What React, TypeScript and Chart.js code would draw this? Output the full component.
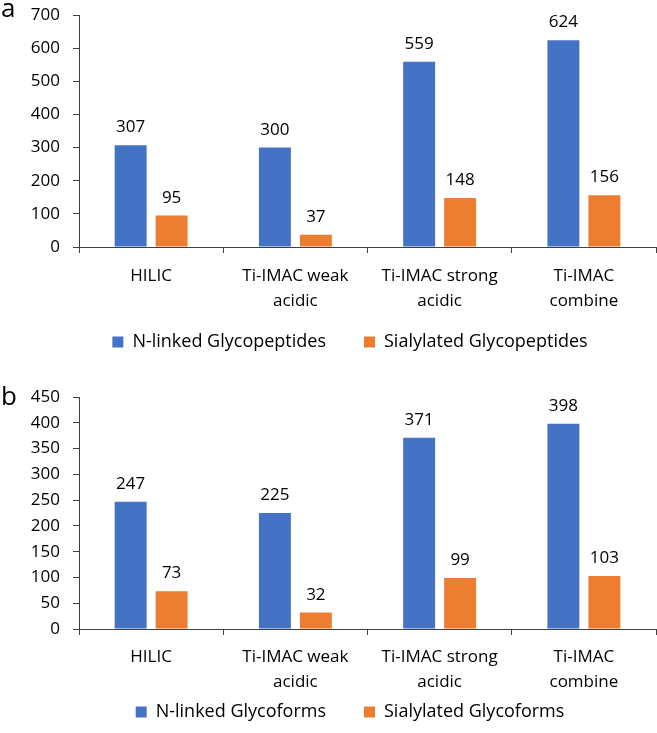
import React, { useEffect, useRef } from "react";
import { Chart, registerables } from "chart.js";

Chart.register(...registerables);

const categoryLabels: string[][] = [
  ["HILIC"],
  ["Ti-IMAC weak", "acidic"],
  ["Ti-IMAC strong", "acidic"],
  ["Ti-IMAC", "combine"],
];

const glycopeptidesNLinked = [307, 300, 559, 624];
const glycopeptidesSialylated = [95, 37, 148, 156];
const glycoformsNLinked = [247, 225, 371, 398];
const glycoformsSialylated = [73, 32, 99, 103];

const seriesNamesA = ["N-linked Glycopeptides", "Sialylated Glycopeptides"];
const seriesNamesB = ["N-linked Glycoforms", "Sialylated Glycoforms"];

const yMaxA = 700;
const yStepA = 100;
const yMaxB = 450;
const yStepB = 50;

const BLUE = "#4472C4";
const ORANGE = "#ED7D31";
const AXIS = "#404040";
const FONT = "'Open Sans', 'DejaVu Sans', sans-serif";
const LEGEND_PAD = 38;
const LEGEND_FONT = 18;

type PanelProps = {
  letter: string;
  names: string[];
  a: number[];
  b: number[];
  yMax: number;
  yStep: number;
  height: number;
  top: number;
  padTop: number;
  padBottom: number;
  xAxisHeight: number;
  xLabelPad: number;
  letterBaseline: number;
  legendCenterY: number;
};

function Panel(p: PanelProps) {
  const ref = useRef<HTMLCanvasElement | null>(null);
  useEffect(() => {
    if (!ref.current) return;
    const labelPlugin = {
      id: "valueLabels",
      afterDatasetsDraw(chart: any) {
        const ctx = chart.ctx;
        ctx.save();
        ctx.font = `17px ${FONT}`;
        ctx.fillStyle = "#000";
        ctx.textAlign = "center";
        ctx.textBaseline = "alphabetic";
        chart.data.datasets.forEach((ds: any, di: number) => {
          const meta = chart.getDatasetMeta(di);
          meta.data.forEach((el: any, i: number) => {
            ctx.fillText(String(ds.data[i]), el.x, el.y - 13);
          });
        });
        ctx.restore();
      },
    };
    const letterPlugin = {
      id: "panelLetter",
      afterDraw(chart: any) {
        const ctx = chart.ctx;
        ctx.save();
        ctx.font = `26px ${FONT}`;
        ctx.fillStyle = "#000";
        ctx.textAlign = "left";
        ctx.textBaseline = "alphabetic";
        ctx.fillText(p.letter, 1, p.letterBaseline);
        ctx.restore();
      },
    };
    const legendPlacePlugin = {
      id: "legendPlace",
      afterLayout(chart: any) {
        const lg = chart.legend;
        if (!lg) return;
        const top = p.legendCenterY - LEGEND_PAD - LEGEND_FONT / 2;
        lg.top = top;
        lg.bottom = p.legendCenterY + 16;
        lg.height = lg.bottom - lg.top;
        const dx = 350 - (lg.left + lg.right) / 2;
        lg.left += dx;
        lg.right += dx;
      },
    };
    const chart = new Chart(ref.current, {
      type: "bar",
      data: {
        labels: categoryLabels,
        datasets: [
          { label: p.names[0], data: p.a, backgroundColor: BLUE, borderWidth: 0 },
          { label: p.names[1], data: p.b, backgroundColor: ORANGE, borderWidth: 0 },
        ],
      },
      options: {
        responsive: false,
        animation: false,
        devicePixelRatio: 1,
        datasets: {
          bar: { categoryPercentage: 0.568, barPercentage: 0.78 },
        },
        layout: { padding: { top: p.padTop, left: 0, right: 1, bottom: p.padBottom } },
        plugins: {
          tooltip: { enabled: false },
          legend: {
            position: "bottom",
            maxHeight: 20,
            labels: {
              boxWidth: 11,
              boxHeight: 11,
              padding: LEGEND_PAD,
              color: "#000",
              font: { family: FONT, size: LEGEND_FONT },
            },
          },
        },
        scales: {
          x: {
            grid: {
              drawOnChartArea: false,
              drawTicks: true,
              tickLength: 6,
              color: AXIS,
              offset: true,
            },
            border: { display: true, color: AXIS, width: 1 },
            ticks: {
              color: "#000",
              padding: p.xLabelPad,
              maxRotation: 0,
              autoSkip: false,
              font: { family: FONT, size: 17, lineHeight: 1.45 },
            },
            afterFit: (scale: any) => {
              scale.height = p.xAxisHeight;
            },
          },
          y: {
            min: 0,
            max: p.yMax,
            grid: {
              drawOnChartArea: false,
              drawTicks: true,
              tickLength: 6,
              color: AXIS,
            },
            border: { display: true, color: AXIS, width: 1 },
            ticks: {
              stepSize: p.yStep,
              color: "#000",
              padding: 13,
              font: { family: FONT, size: 17 },
            },
            afterFit: (scale: any) => {
              scale.width = 79;
              scale.paddingTop = 4;
              scale.paddingBottom = 4;
            },
          },
        },
      },
      plugins: [labelPlugin, letterPlugin, legendPlacePlugin],
    });
    if ((document as any).fonts && (document as any).fonts.ready) {
      (document as any).fonts.ready.then(() => {
        try { chart.update(); } catch (e) {}
      });
    }
    return () => chart.destroy();
  }, []);
  return (
    <canvas
      ref={ref}
      width={657}
      height={p.height}
      style={{ position: "absolute", left: 0, top: p.top, width: 657, height: p.height }}
    />
  );
}

export default function App() {
  return (
    <div style={{ position: "absolute", left: 0, top: 0, width: 657, height: 733, background: "#fff" }}>
      <Panel
        letter="a"
        names={seriesNamesA}
        a={glycopeptidesNLinked}
        b={glycopeptidesSialylated}
        yMax={yMaxA}
        yStep={yStepA}
        height={365}
        top={0}
        padTop={15}
        padBottom={23}
        xAxisHeight={75}
        xLabelPad={11}
        letterBaseline={17}
        legendCenterY={342}
      />
      <Panel
        letter="b"
        names={seriesNamesB}
        a={glycoformsNLinked}
        b={glycoformsSialylated}
        yMax={yMaxB}
        yStep={yStepB}
        height={368}
        top={365}
        padTop={32}
        padBottom={14}
        xAxisHeight={70}
        xLabelPad={10}
        letterBaseline={40}
        legendCenterY={347}
      />
    </div>
  );
}
